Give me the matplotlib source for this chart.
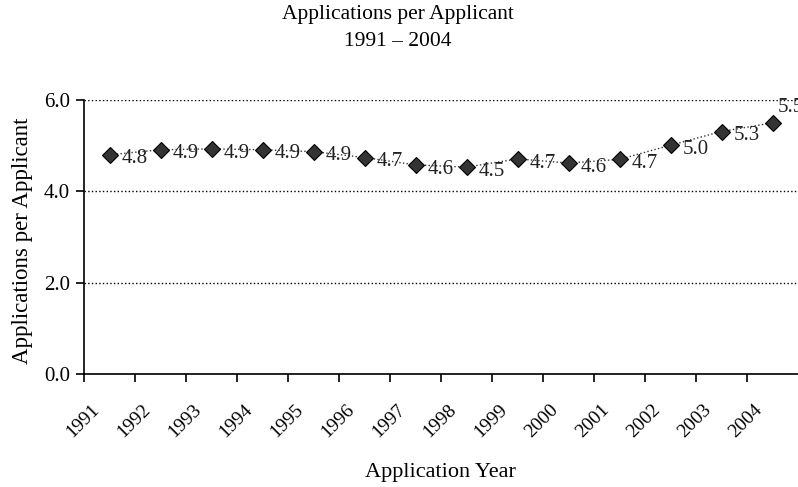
import matplotlib.pyplot as plt
import matplotlib.transforms as mtransforms
import numpy as np

years = ['1991', '1992', '1993', '1994', '1995', '1996', '1997',
         '1998', '1999', '2000', '2001', '2002', '2003', '2004']
apps_per_applicant = [4.80, 4.91, 4.93, 4.91, 4.87, 4.74, 4.58,
                      4.53, 4.71, 4.62, 4.70, 5.01, 5.31, 5.50]
point_labels = ['4.8', '4.9', '4.9', '4.9', '4.9', '4.7', '4.6',
                '4.5', '4.7', '4.6', '4.7', '5.0', '5.3', '5.5']

plt.rcParams['font.family'] = ['Liberation Serif', 'DejaVu Serif']

fig = plt.figure(figsize=(7.98, 4.87), dpi=100)
ax = fig.add_axes([84 / 798, 1 - 374 / 487, 1 - 84 / 798, 274 / 487])

x = np.arange(len(years))
ax.plot(x, apps_per_applicant, ls=':', lw=1, color='#333333',
        marker='D', markersize=8, markerfacecolor='#333333',
        markeredgecolor='black', markeredgewidth=0.8, clip_on=False, zorder=3)

for i, (xi, yi, lab) in enumerate(zip(x, apps_per_applicant, point_labels)):
    # last label sits above the point, as in the original
    offset = (4, 11) if i == len(years) - 1 else (9, -3)
    ax.annotate(lab, (xi, yi), xytext=offset, textcoords='offset points',
                ha='left', va='center', fontsize=15, color='#222222',
                annotation_clip=False)

ax.set_xlim(-0.5, len(years) - 0.5)
ax.set_ylim(0, 6)
ax.set_yticks([0, 2, 4, 6])
ax.set_yticklabels(['0.0', '2.0', '4.0', '6.0'], fontsize=15)
ax.yaxis.grid(True, ls=':', lw=1, color='black')
ax.set_axisbelow(True)

ax.set_xticks(x)
ax.set_xticklabels(years, rotation=45, ha='right', va='center',
                   rotation_mode='anchor', fontsize=14)
ax.tick_params(axis='x', length=0, pad=24)
shift = mtransforms.ScaledTranslation(-13 / 100, 0, fig.dpi_scale_trans)
for lbl in ax.get_xticklabels():
    lbl.set_transform(lbl.get_transform() + shift)
ax.set_xticks(np.arange(-0.5, len(years) - 0.5, 1), minor=True)
ax.tick_params(axis='x', which='minor', length=6, width=1.2, direction='out')
ax.tick_params(axis='y', length=6, width=1.2, direction='out', pad=4)

for s in ['top', 'right']:
    ax.spines[s].set_visible(False)
ax.spines['left'].set_linewidth(1.2)
ax.spines['bottom'].set_linewidth(1.2)

fig.text(23 / 798, 1 - 241 / 487, 'Applications per Applicant', rotation=90,
         ha='center', va='center', fontsize=16.5)
fig.text(440 / 798, 1 - 473 / 487, 'Application Year', ha='center', va='center', fontsize=16)
fig.text(398 / 798, 1 - 14 / 487, 'Applications per Applicant', ha='center', va='center', fontsize=15.5)
fig.text(398 / 798, 1 - 41 / 487, '1991 – 2004', ha='center', va='center', fontsize=15.5)

fig.savefig('out.png', dpi=100)
